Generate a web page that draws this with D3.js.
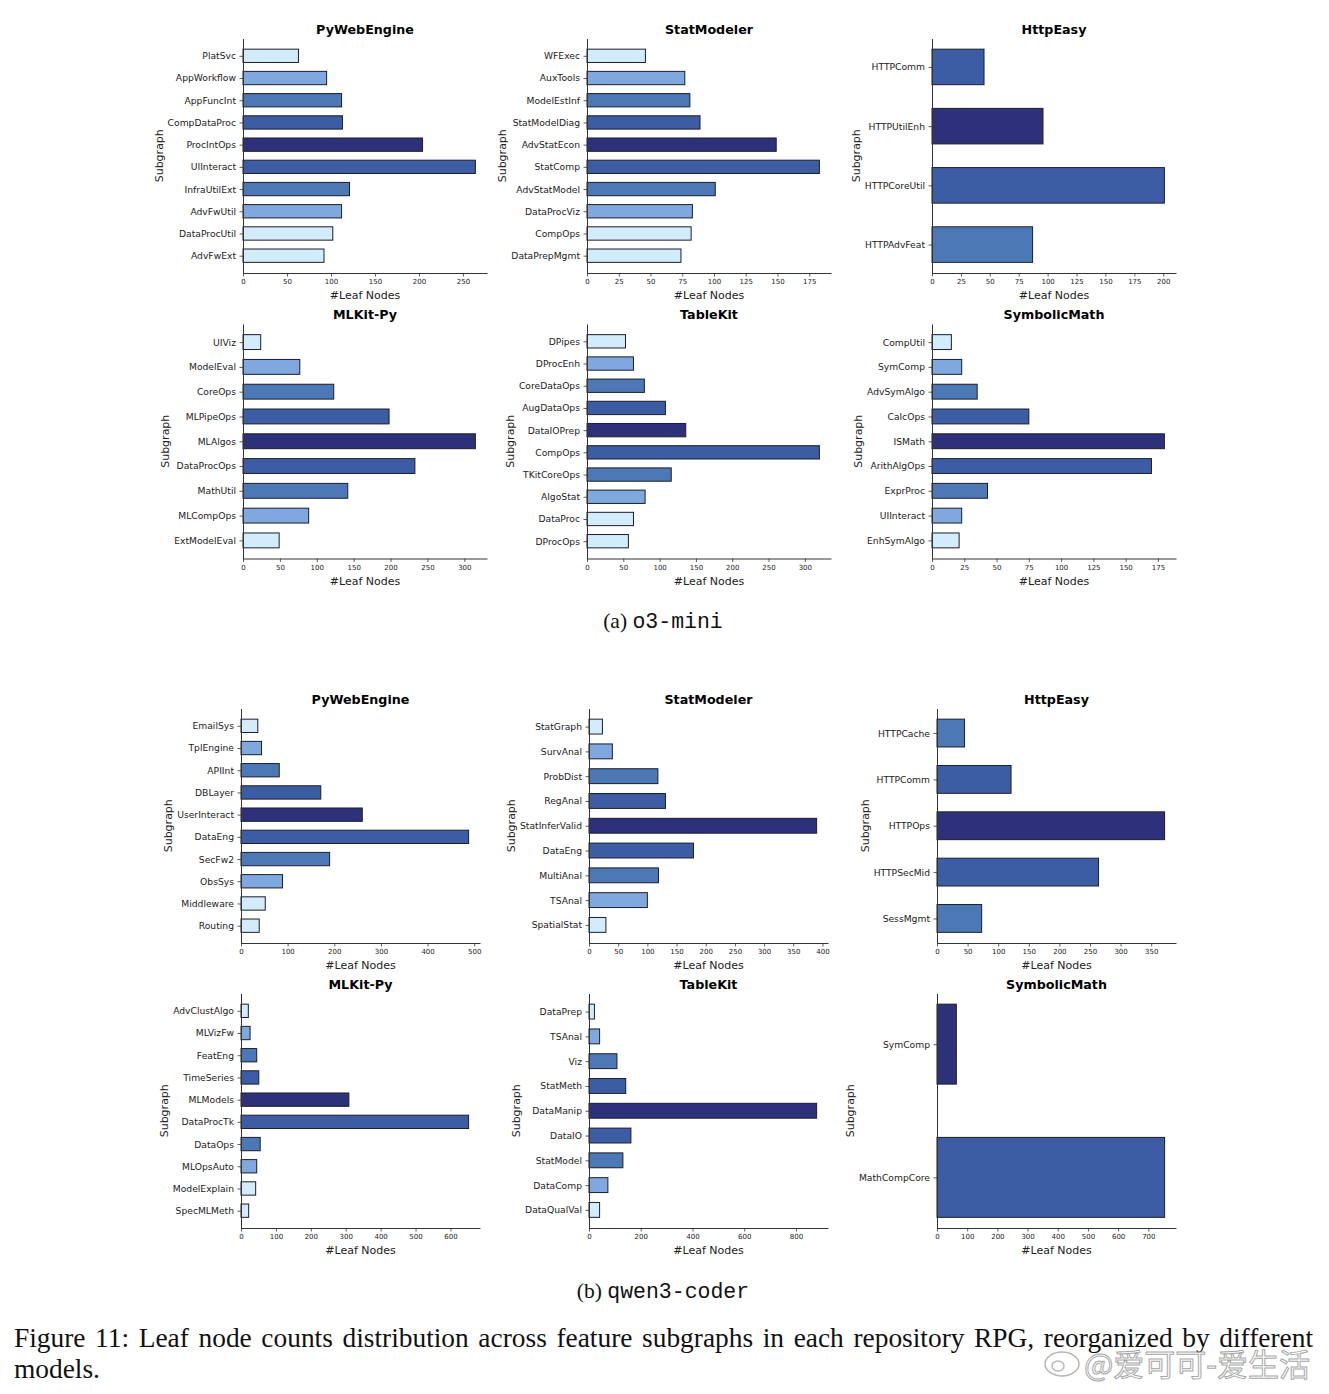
<!DOCTYPE html>
<html>
<head>
<meta charset="utf-8">
<script src="https://cdn.jsdelivr.net/npm/d3@7"></script>
<style>
  body { margin: 0; background: #fff; }
  text { font-family: "DejaVu Sans", sans-serif; }
</style>
</head>
<body>
<svg id="fig" width="1329" height="1394"></svg>
<script>
// (a) o3-mini
var reposA = ["PyWebEngine", "StatModeler", "HttpEasy", "MLKit-Py", "TableKit", "SymbolicMath"];
var catsA = [
    ["PlatSvc", "AppWorkflow", "AppFuncInt", "CompDataProc", "ProcIntOps", "UIInteract", "InfraUtilExt", "AdvFwUtil", "DataProcUtil", "AdvFwExt"],
    ["WFExec", "AuxTools", "ModelEstInf", "StatModelDiag", "AdvStatEcon", "StatComp", "AdvStatModel", "DataProcViz", "CompOps", "DataPrepMgmt"],
    ["HTTPComm", "HTTPUtilEnh", "HTTPCoreUtil", "HTTPAdvFeat"],
    ["UIViz", "ModelEval", "CoreOps", "MLPipeOps", "MLAlgos", "DataProcOps", "MathUtil", "MLCompOps", "ExtModelEval"],
    ["DPipes", "DProcEnh", "CoreDataOps", "AugDataOps", "DataIOPrep", "CompOps", "TKitCoreOps", "AlgoStat", "DataProc", "DProcOps"],
    ["CompUtil", "SymComp", "AdvSymAlgo", "CalcOps", "ISMath", "ArithAlgOps", "ExprProc", "UIInteract", "EnhSymAlgo"]
];
var valsA = [
    [63, 95, 112, 113, 204, 264, 121, 112, 102, 92],
    [46, 77, 81, 89, 149, 183, 101, 83, 82, 74],
    [45, 96, 201, 87],
    [24, 77, 123, 198, 315, 233, 142, 89, 49],
    [53, 64, 79, 108, 136, 320, 116, 80, 64, 57],
    [15, 23, 35, 75, 180, 170, 43, 23, 21]
];
var tickStepA = [50, 25, 25, 50, 50, 25];

// (b) qwen3-coder
var reposB = ["PyWebEngine", "StatModeler", "HttpEasy", "MLKit-Py", "TableKit", "SymbolicMath"];
var catsB = [
    ["EmailSys", "TplEngine", "APIInt", "DBLayer", "UserInteract", "DataEng", "SecFw2", "ObsSys", "Middleware", "Routing"],
    ["StatGraph", "SurvAnal", "ProbDist", "RegAnal", "StatInferValid", "DataEng", "MultiAnal", "TSAnal", "SpatialStat"],
    ["HTTPCache", "HTTPComm", "HTTPOps", "HTTPSecMid", "SessMgmt"],
    ["AdvClustAlgo", "MLVizFw", "FeatEng", "TimeSeries", "MLModels", "DataProcTk", "DataOps", "MLOpsAuto", "ModelExplain", "SpecMLMeth"],
    ["DataPrep", "TSAnal", "Viz", "StatMeth", "DataManip", "DataIO", "StatModel", "DataComp", "DataQualVal"],
    ["SymComp", "MathCompCore"]
];
var valsB = [
    [36, 44, 82, 171, 260, 488, 190, 89, 52, 39],
    [23, 40, 118, 131, 390, 179, 119, 100, 29],
    [45, 121, 372, 264, 73],
    [21, 26, 45, 51, 309, 652, 55, 45, 42, 22],
    [21, 41, 108, 142, 880, 162, 131, 73, 41],
    [64, 754]
];
var tickStepB = [100, 50, 50, 100, 200, 100];

var svg = d3.select("#fig");

// darkest in the middle bar, lighter going outwards
var palette = ["#2c317a", "#3c5da3", "#4c79b5", "#7ea8de", "#d3ecfb"];

function panel(o) {
    var n = o.cats.length,
        m = 0.05 * (n - 0.4),
        xmax = d3.max(o.vals) * 1.05,
        mid = Math.floor((n - 1) / 2);

    var x = d3.scaleLinear().domain([0, xmax]).range([0, o.width]);
    var y = d3.scaleLinear().domain([-0.3 - m, n - 0.7 + m]).range([0, o.height]);
    var bh = y(0.6) - y(0);

    var g = svg.append("g").attr("transform", "translate(" + o.left + "," + o.top + ")");

    g.selectAll("rect")
        .data(o.vals)
        .enter().append("rect")
        .attr("x", x(0))
        .attr("y", function(d, i) { return y(i) - bh / 2; })
        .attr("width", function(d) { return x(d) - x(0); })
        .attr("height", bh)
        .attr("fill", function(d, i) { return palette[Math.min(Math.abs(i - mid), 4)]; })
        .attr("stroke", "#1d1d2b")
        .attr("stroke-width", 1);

    var xa = g.append("g")
        .attr("transform", "translate(0," + o.height + ")")
        .call(d3.axisBottom(x)
            .tickValues(d3.range(0, xmax, o.step))
            .tickFormat(d3.format("d"))
            .tickSize(3.5).tickSizeOuter(0).tickPadding(3));

    var ya = g.append("g")
        .call(d3.axisLeft(y)
            .tickValues(d3.range(n))
            .tickFormat(function(i) { return o.cats[i]; })
            .tickSize(3.5).tickSizeOuter(0).tickPadding(3.5));

    [xa, ya].forEach(function(a) {
        a.attr("font-family", null).attr("font-size", null);
        a.select(".domain").attr("stroke", "#333").attr("stroke-width", 1);
        a.selectAll(".tick line").attr("stroke", "#333").attr("stroke-width", 0.8);
        a.selectAll(".tick text").attr("fill", "#222");
    });
    xa.selectAll(".tick text").style("font-size", "7px");
    ya.selectAll(".tick text").style("font-size", "9.2px");

    g.append("text")
        .attr("x", o.width / 2)
        .attr("y", -5)
        .attr("text-anchor", "middle")
        .style("font-weight", "bold")
        .style("font-size", "12.7px")
        .text(o.title);

    g.append("text")
        .attr("x", o.width / 2)
        .attr("y", o.height + 26)
        .attr("text-anchor", "middle")
        .style("font-size", "11px")
        .attr("fill", "#222")
        .text("#Leaf Nodes");

    var labW = d3.max(ya.selectAll(".tick text").nodes(), function(t) { return t.getComputedTextLength(); });
    g.append("text")
        .attr("transform", "translate(" + (-7 - labW - 5) + "," + (o.height / 2) + ") rotate(-90)")
        .attr("text-anchor", "middle")
        .style("font-size", "11px")
        .attr("fill", "#222")
        .text("Subgraph");
}

function figure(titles, cats, vals, steps, lefts, tops, w, h) {
    titles.forEach(function(t, i) {
        panel({
            title: t, cats: cats[i], vals: vals[i], step: steps[i],
            left: lefts[i % 3], top: tops[Math.floor(i / 3)], width: w, height: h
        });
    });
}

figure(reposA, catsA, valsA, tickStepA, [243, 587, 932], [38.5, 324], 244, 234.5);
figure(reposB, catsB, valsB, tickStepB, [241, 589, 937], [708.5, 993.5], 239, 234.5);

// sub-captions
function subcap(y, tag, model) {
    var t = svg.append("text")
        .attr("x", 663).attr("y", y)
        .attr("text-anchor", "middle")
        .style("font-size", "21.5px")
        .attr("fill", "#111");
    t.append("tspan").style("font-family", "Liberation Serif").text(tag + " ");
    t.append("tspan").style("font-family", "Liberation Mono").text(model);
}
subcap(628, "(a)", "o3-mini");
subcap(1298, "(b)", "qwen3-coder");

// justified first caption line: stretch the word gaps, not the letters
var capLine = "Figure 11: Leaf node counts distribution across feature subgraphs in each repository RPG, reorganized by different";
var cap1 = svg.append("text")
    .attr("x", 14).attr("y", 1347)
    .style("font-family", "Liberation Serif")
    .style("font-size", "27.4px")
    .attr("fill", "#111")
    .text(capLine);
var natW = cap1.node().getComputedTextLength(),
    gaps = capLine.split(" ").length - 1;
cap1.style("word-spacing", Math.max(0, (1299 - natW) / gaps) + "px");

svg.append("text")
    .attr("x", 14).attr("y", 1378)
    .style("font-family", "Liberation Serif")
    .style("font-size", "27.4px")
    .attr("fill", "#111")
    .text("models.");

// watermark
var wm = svg.append("g").attr("opacity", 0.85);
wm.append("ellipse").attr("cx", 1062).attr("cy", 1364).attr("rx", 17).attr("ry", 12)
    .attr("fill", "none").attr("stroke", "#aaa").attr("stroke-width", 1.5);
wm.append("ellipse").attr("cx", 1058).attr("cy", 1366).attr("rx", 6).attr("ry", 5)
    .attr("fill", "none").attr("stroke", "#aaa").attr("stroke-width", 1.5);
wm.append("text")
    .attr("x", 1084).attr("y", 1376)
    .style("font-family", "Noto Sans CJK SC")
    .style("font-size", "31px")
    .attr("fill", "#fff")
    .attr("stroke", "#999")
    .attr("stroke-width", 1)
    .text("@爱可可-爱生活");
</script>
</body>
</html>
